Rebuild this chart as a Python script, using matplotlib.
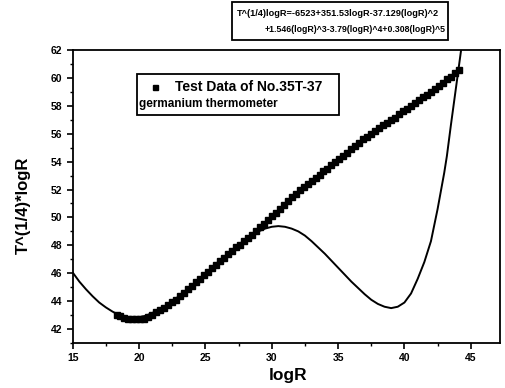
import matplotlib
matplotlib.use("Agg")
import matplotlib.pyplot as plt
from matplotlib.patches import Rectangle
from matplotlib.ticker import MultipleLocator

plt.rcParams['font.family'] = ['Liberation Sans', 'DejaVu Sans']
plt.rcParams['font.weight'] = 'bold'

# Test data (logR, T^(1/4)*logR)
data_x = [18.3, 18.6, 18.9, 19.2, 19.5, 19.8, 20.1, 20.4, 20.7, 21.0, 21.3, 21.6, 21.9, 22.2,
          22.5, 22.8, 23.1, 23.4, 23.7, 24.0, 24.3, 24.6, 24.9, 25.2, 25.5, 25.8, 26.1, 26.4,
          26.7, 27.0, 27.3, 27.6, 27.9, 28.2, 28.5, 28.8, 29.1, 29.4, 29.7, 30.0, 30.3, 30.6,
          30.9, 31.2, 31.5, 31.8, 32.1, 32.4, 32.7, 33.0, 33.3, 33.6, 33.9, 34.2, 34.5, 34.8,
          35.1, 35.4, 35.7, 36.0, 36.3, 36.6, 36.9, 37.2, 37.5, 37.8, 38.1, 38.4, 38.7, 39.0,
          39.3, 39.6, 39.9, 40.2, 40.5, 40.8, 41.1, 41.4, 41.7, 42.0, 42.3, 42.6, 42.9, 43.2,
          43.5, 43.8, 44.1]
data_y = [43.0, 42.9, 42.8, 42.75, 42.7, 42.75, 42.7, 42.75, 42.85, 43.0, 43.2, 43.35, 43.5, 43.7,
          43.95, 44.1, 44.4, 44.6, 44.85, 45.1, 45.35, 45.6, 45.85, 46.1, 46.35, 46.6, 46.9, 47.1,
          47.4, 47.6, 47.85, 48.05, 48.3, 48.5, 48.75, 49.0, 49.3, 49.5, 49.8, 50.1, 50.35, 50.6,
          50.9, 51.2, 51.5, 51.7, 51.95, 52.15, 52.4, 52.6, 52.85, 53.05, 53.3, 53.5, 53.75, 53.95,
          54.2, 54.4, 54.65, 54.9, 55.15, 55.35, 55.6, 55.8, 56.0, 56.2, 56.4, 56.6, 56.8, 57.0,
          57.15, 57.4, 57.6, 57.8, 58.0, 58.2, 58.4, 58.6, 58.8, 59.0, 59.2, 59.4, 59.65, 59.9,
          60.1, 60.35, 60.55]

# Fitted polynomial curve
fit_x = [15.0, 15.5, 16.0, 16.5, 17.0, 17.5, 18.0, 18.5, 19.0, 19.5, 20.0, 20.5, 21.0, 21.5,
         22.0, 22.5, 23.0, 23.5, 24.0, 24.5, 25.0, 25.5, 26.0, 26.5, 27.0, 27.5, 28.0, 28.5,
         29.0, 29.5, 30.0, 30.5, 31.0, 31.5, 32.0, 32.5, 33.0, 33.5, 34.0, 34.5, 35.0, 35.5,
         36.0, 36.5, 37.0, 37.5, 38.0, 38.5, 39.0, 39.5, 40.0, 40.5, 41.0, 41.5, 42.0, 42.5,
         43.0, 43.2, 43.5, 43.8, 44.1, 44.3]
fit_y = [46.05, 45.4, 44.85, 44.35, 43.9, 43.55, 43.25, 43.0, 42.88, 42.82, 42.85, 42.95,
         43.15, 43.38, 43.65, 44.0, 44.35, 44.75, 45.15, 45.55, 45.95, 46.4, 46.85, 47.25,
         47.65, 48.05, 48.4, 48.75, 49.0, 49.2, 49.33, 49.38, 49.33, 49.2, 49.0, 48.7, 48.3,
         47.85, 47.4, 46.9, 46.4, 45.9, 45.4, 44.95, 44.5, 44.1, 43.8, 43.6, 43.5, 43.6,
         43.9, 44.55, 45.6, 46.8, 48.3, 50.6, 53.2, 54.4, 56.6, 58.7, 60.8, 62.2]

xticks = [15, 20, 25, 30, 35, 40, 45]
yticks = [42, 44, 46, 48, 50, 52, 54, 56, 58, 60, 62]

fig = plt.figure(figsize=(5.05, 3.88), dpi=100)
ax = fig.add_axes([0.144, 0.116, 0.846, 0.755])

ax.plot(fit_x, fit_y, color='black', lw=1.4, zorder=2)
ax.plot(data_x, data_y, ls='none', marker='s', ms=4.0, color='black', zorder=3)

ax.set_xlim(15, 47.2)
ax.set_ylim(41, 62)
ax.set_xticks(xticks)
ax.set_yticks(yticks)
ax.xaxis.set_minor_locator(MultipleLocator(2.5))
ax.yaxis.set_minor_locator(MultipleLocator(1))
ax.tick_params(which='major', direction='out', length=4, width=1.2, labelsize=7.5)
ax.tick_params(which='minor', direction='out', length=2.5, width=1.0)
for lab in ax.get_xticklabels() + ax.get_yticklabels():
    lab.set_fontweight('bold')
for sp in ax.spines.values():
    sp.set_linewidth(1.3)

ax.set_xlabel('logR', fontsize=12.5, fontweight='bold')
ax.xaxis.set_label_coords(0.503, -0.085)
ax.set_ylabel('T^(1/4)*logR', fontsize=12, fontweight='bold')
ax.yaxis.set_label_coords(-0.098, 0.47)

# legend box
ax.add_patch(Rectangle((0.150, 0.778), 0.473, 0.140, transform=ax.transAxes,
                       fill=False, lw=1.3, ec='black', zorder=4))
ax.plot([0.193], [0.874], marker='s', ms=3.6, color='black', transform=ax.transAxes,
        clip_on=False, zorder=5)
ax.text(0.239, 0.874, 'Test Data of No.35T-37', transform=ax.transAxes, fontsize=10,
        fontweight='bold', va='center', ha='left')
ax.text(0.155, 0.816, 'germanium thermometer', transform=ax.transAxes, fontsize=8.5,
        fontweight='bold', va='center', ha='left')

# equation box
fig.patches.append(Rectangle((232 / 505, 1 - 40 / 388), 216 / 505, 38 / 388,
                             transform=fig.transFigure, fill=False, lw=1.3, ec='black'))
fig.text(237 / 505, 1 - 14 / 388, 'T^(1/4)logR=-6523+351.53logR-37.129(logR)^2',
         fontsize=6.6, fontweight='bold', va='center', ha='left')
fig.text(265 / 505, 1 - 29 / 388, '+1.546(logR)^3-3.79(logR)^4+0.308(logR)^5',
         fontsize=6.3, fontweight='bold', va='center', ha='left')

fig.savefig('out.png', dpi=100)
